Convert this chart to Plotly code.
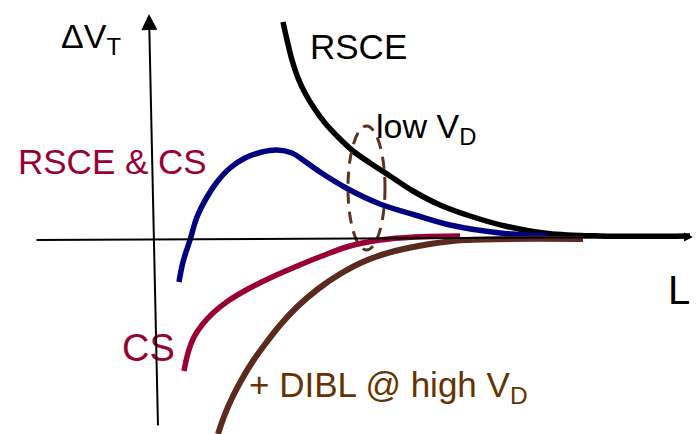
import plotly.graph_objects as go

# Schematic threshold-voltage shift versus channel length.
# Units are arbitrary: L to the right, dVT upward, origin at the axes crossing.

rsce_L = [130, 134, 139, 145, 152, 161, 172, 185, 200, 217, 237, 260, 287, 317, 352, 395, 447, 537]
rsce_dvt = [218, 200, 180, 162, 147, 132, 117, 103, 89, 77, 64, 49, 35, 24, 14, 6.5, 4, 4]

rsce_cs_L = [26, 30, 37, 44, 54, 64, 77, 92, 109, 124, 139, 150, 167, 195, 227, 262, 297, 347, 395]
rsce_cs_dvt = [-42, -22, 0, 23, 43, 58, 72, 82, 88, 90, 87, 80, 68, 51, 36, 25, 15, 7, 4]

cs_L = [31, 35, 41, 49, 60, 75, 95, 117, 142, 169, 197, 227, 262, 307]
cs_dvt = [-131, -113, -97, -85, -73, -61, -49, -38, -27, -16, -6, 0, 3, 4]

dibl_L = [65, 72, 80, 89, 100, 113, 128, 145, 165, 187, 212, 242, 277, 312, 430]
dibl_dvt = [-194, -174, -156, -139, -121, -103, -84, -66, -49, -34, -21, -11, -4, 0, 1]

FONT = "Liberation Sans, Arial, sans-serif"
BLACK = "#000000"
NAVY = "#000080"
WINE = "#990033"
BROWN_LINE = "#5a2a1e"
BROWN_TEXT = "#663300"

fig = go.Figure()

curves = [
    (rsce_L, rsce_dvt, BLACK, 5.5),
    (rsce_cs_L, rsce_cs_dvt, NAVY, 5.5),
    (cs_L, cs_dvt, WINE, 5.5),
    (dibl_L, dibl_dvt, BROWN_LINE, 6),
]
for xs, ys, col, w in curves:
    fig.add_trace(go.Scatter(
        x=xs, y=ys, mode="lines",
        line=dict(color=col, width=w, shape="spline", smoothing=1.0),
        hoverinfo="skip", showlegend=False,
    ))

# dashed ellipse marking the low-VD region
fig.add_shape(
    type="circle", xref="x", yref="y",
    x0=195, x1=232, y0=-10, y1=114,
    line=dict(color="#5c3323", width=3, dash="12px,8px"),
    layer="above",
)

labels = [
    ("ΔV<sub>T</sub>", -94, 225, 34, BLACK),
    ("RSCE", 155, 215, 35, BLACK),
    ("RSCE &amp; CS", -137, 100, 35, WINE),
    ("low V<sub>D</sub>", 221, 135, 34, BLACK),
    ("CS", -33, -85, 38, WINE),
    ("L", 513, -26, 40, BLACK),
    ("+ DIBL @ high V<sub>D</sub>", 94, -123, 35, BROWN_TEXT),
]
annotations = []
for txt, x, y, size, col in labels:
    annotations.append(dict(
        text=txt, x=x, y=y, xref="x", yref="y",
        xanchor="left", yanchor="top", showarrow=False,
        font=dict(family=FONT, size=size, color=col),
    ))

# coordinate axes with arrowheads (drawn last so they sit on top of the labels)
annotations.append(dict(
    text="", x=-4, y=226, ax=5, ay=-187, xref="x", yref="y", axref="x", ayref="y",
    showarrow=True, arrowhead=2, arrowsize=1.6, arrowwidth=2, arrowcolor=BLACK, standoff=0,
))
annotations.append(dict(
    text="", x=540, y=3, ax=-118, ay=0, xref="x", yref="y", axref="x", ayref="y",
    showarrow=True, arrowhead=2, arrowsize=0.9, arrowwidth=2, arrowcolor=BLACK, standoff=0,
))

fig.update_layout(
    width=696, height=434,
    margin=dict(l=0, r=0, t=0, b=0),
    paper_bgcolor="white", plot_bgcolor="white",
    showlegend=False,
    xaxis=dict(range=[-153, 543], visible=False, fixedrange=True),
    yaxis=dict(range=[-194, 240], visible=False, fixedrange=True),
    annotations=annotations,
)

fig.write_html("out.html", config={"displayModeBar": False})
